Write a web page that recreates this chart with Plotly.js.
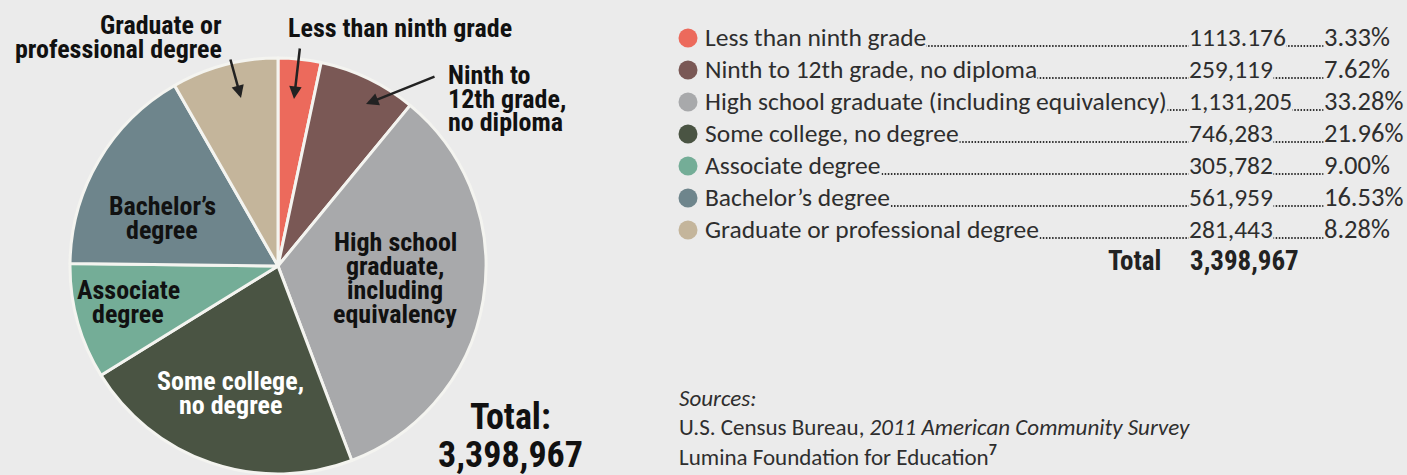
<!DOCTYPE html>
<html>
<head>
<meta charset="utf-8">
<script src="https://cdn.plot.ly/plotly-3.0.1.min.js"></script>
<style>
  html, body { margin: 0; padding: 0; background: #ebebeb; }
  #chart { width: 1407px; height: 475px; }
</style>
</head>
<body>
<div id="chart"></div>
<script>
// ---- data ----
const categories = [
  'Less than ninth grade',
  'Ninth to 12th grade, no diploma',
  'High school graduate (including equivalency)',
  'Some college, no degree',
  'Associate degree',
  'Bachelor\u2019s degree',
  'Graduate or professional degree'
];
const counts = [113176, 259119, 1131205, 746283, 305782, 561959, 281443];
const countLabels = ['1113.176', '259,119', '1,131,205', '746,283', '305,782', '561,959', '281,443'];
const percentLabels = ['3.33%', '7.62%', '33.28%', '21.96%', '9.00%', '16.53%', '8.28%'];
const colors = ['#ec6a5c', '#7a5855', '#a8a9ab', '#4a5443', '#74ad97', '#6e858c', '#c4b59b'];
const totalText = '3,398,967';

// ---- styling ----
const BG = '#ebebeb';
const LIGHT = "Carlito, 'Liberation Sans', sans-serif";
const BOLD = "'Roboto Condensed', 'Open Sans Condensed', sans-serif";
const W = 1407, H = 475;

const traces = [];

// Pie
traces.push({
  type: 'pie',
  labels: categories,
  values: counts,
  sort: false,
  direction: 'clockwise',
  rotation: 0,
  textinfo: 'none',
  hoverinfo: 'skip',
  showlegend: false,
  marker: { colors: colors, line: { color: '#f4f4f0', width: 3 } },
  domain: { x: [70 / W, 486 / W], y: [1 / H, 417 / H] }
});

// Legend dots (pixel-mapped hidden axes)
const rowY = categories.map((c, i) => 37 + i * 32);
traces.push({
  type: 'scatter',
  mode: 'markers',
  x: categories.map(() => 688),
  y: rowY.map(v => v + 1),
  marker: { color: colors, size: 19 },
  hoverinfo: 'skip',
  showlegend: false
});

const annotations = [];
const shapes = [];

// Legend rows
const legFont = { family: LIGHT, size: 25.5, color: '#2e2e2e' };
categories.forEach((c, i) => {
  const y = rowY[i];
  shapes.push({ type: 'line', xref: 'x', yref: 'y', x0: 708, x1: 1190, y0: y + 9, y1: y + 9,
    line: { color: '#333', width: 1.8, dash: '1.5px,1.6px' } });
  shapes.push({ type: 'line', xref: 'x', yref: 'y', x0: 1192, x1: 1326, y0: y + 9, y1: y + 9,
    line: { color: '#333', width: 1.8, dash: '1.5px,1.6px' } });
  annotations.push({ xref: 'x', yref: 'y', x: 704, y: y, xanchor: 'left', yanchor: 'middle',
    text: c, showarrow: false, bgcolor: BG, borderpad: 0, font: legFont });
  annotations.push({ xref: 'x', yref: 'y', x: 1188, y: y, xanchor: 'left', yanchor: 'middle',
    text: countLabels[i], showarrow: false, bgcolor: BG, borderpad: 0, font: legFont });
  annotations.push({ xref: 'x', yref: 'y', x: 1323, y: y, xanchor: 'left', yanchor: 'middle',
    text: percentLabels[i], showarrow: false, bgcolor: BG, borderpad: 0,
    font: { family: LIGHT, size: 26.5, color: '#2e2e2e' } });
});
annotations.push({ xref: 'x', yref: 'y', x: 1163, y: 261, xanchor: 'right', yanchor: 'middle',
  text: 'Total', showarrow: false, font: { family: BOLD, size: 27, color: '#222', weight: 'bold' } });
annotations.push({ xref: 'x', yref: 'y', x: 1188, y: 261, xanchor: 'left', yanchor: 'middle',
  text: totalText, showarrow: false, font: { family: BOLD, size: 27, color: '#222', weight: 'bold' } });

// Sources
const srcFont = { family: LIGHT, size: 23, color: '#2e2e2e' };
annotations.push({ xref: 'x', yref: 'y', x: 677, y: 398, xanchor: 'left', yanchor: 'middle',
  text: '<i>Sources:</i>', showarrow: false, font: srcFont });
annotations.push({ xref: 'x', yref: 'y', x: 677, y: 427, xanchor: 'left', yanchor: 'middle',
  text: 'U.S. Census Bureau, <i>2011 American Community Survey</i>', showarrow: false, font: srcFont });
annotations.push({ xref: 'x', yref: 'y', x: 677, y: 455, xanchor: 'left', yanchor: 'middle',
  text: 'Lumina Foundation for Education<sup><b>7</b></sup>', showarrow: false, font: srcFont });

// Slice labels (one annotation per line for tight leading)
function label(lines, x, y0, anchor, color, size, step) {
  lines.forEach((t, k) => {
    annotations.push({ xref: 'x', yref: 'y', x: x, y: y0 + k * step, xanchor: anchor, yanchor: 'middle',
      text: t, showarrow: false, font: { family: BOLD, size: size, color: color, weight: 'bold' } });
  });
}
label(['Graduate or', 'professional degree'], 224, 25, 'right', '#111', 26, 23.5);
label(['Less than ninth grade'], 286, 28, 'left', '#111', 26, 23.5);
label(['Ninth to', '12th grade,', 'no diploma'], 446, 75, 'left', '#111', 26, 23.5);
label(['High school', 'graduate,', 'including', 'equivalency'], 395, 242, 'center', '#111', 26, 24);
label(['Bachelor\u2019s', 'degree'], 162, 206, 'center', '#111', 26, 24);
label(['Associate', 'degree'], 128, 290, 'center', '#111', 26, 24);
label(['Some college,', 'no degree'], 230, 381, 'center', '#ffffff', 26, 24);
label(['Total:', totalText], 510, 417, 'center', '#111', 36, 38);

// Arrows
function arrow(x0, y0, x1, y1) {
  annotations.push({ xref: 'x', yref: 'y', axref: 'x', ayref: 'y', x: x1, y: y1, ax: x0, ay: y0,
    text: '', showarrow: true, arrowhead: 2, arrowsize: 1, arrowwidth: 2.5, arrowcolor: '#222' });
}
arrow(230, 58, 241, 98);
arrow(300, 47, 294, 99);
arrow(436, 76, 366, 104);

const layout = {
  width: W, height: H,
  margin: { l: 0, r: 0, t: 0, b: 0 },
  paper_bgcolor: BG, plot_bgcolor: 'rgba(0,0,0,0)',
  showlegend: false,
  xaxis: { range: [0, W], visible: false, fixedrange: true, domain: [0, 1] },
  yaxis: { range: [H, 0], visible: false, fixedrange: true, domain: [0, 1] },
  annotations: annotations,
  shapes: shapes
};

Plotly.newPlot('chart', traces, layout, { displayModeBar: false, staticPlot: true });
</script>
</body>
</html>
